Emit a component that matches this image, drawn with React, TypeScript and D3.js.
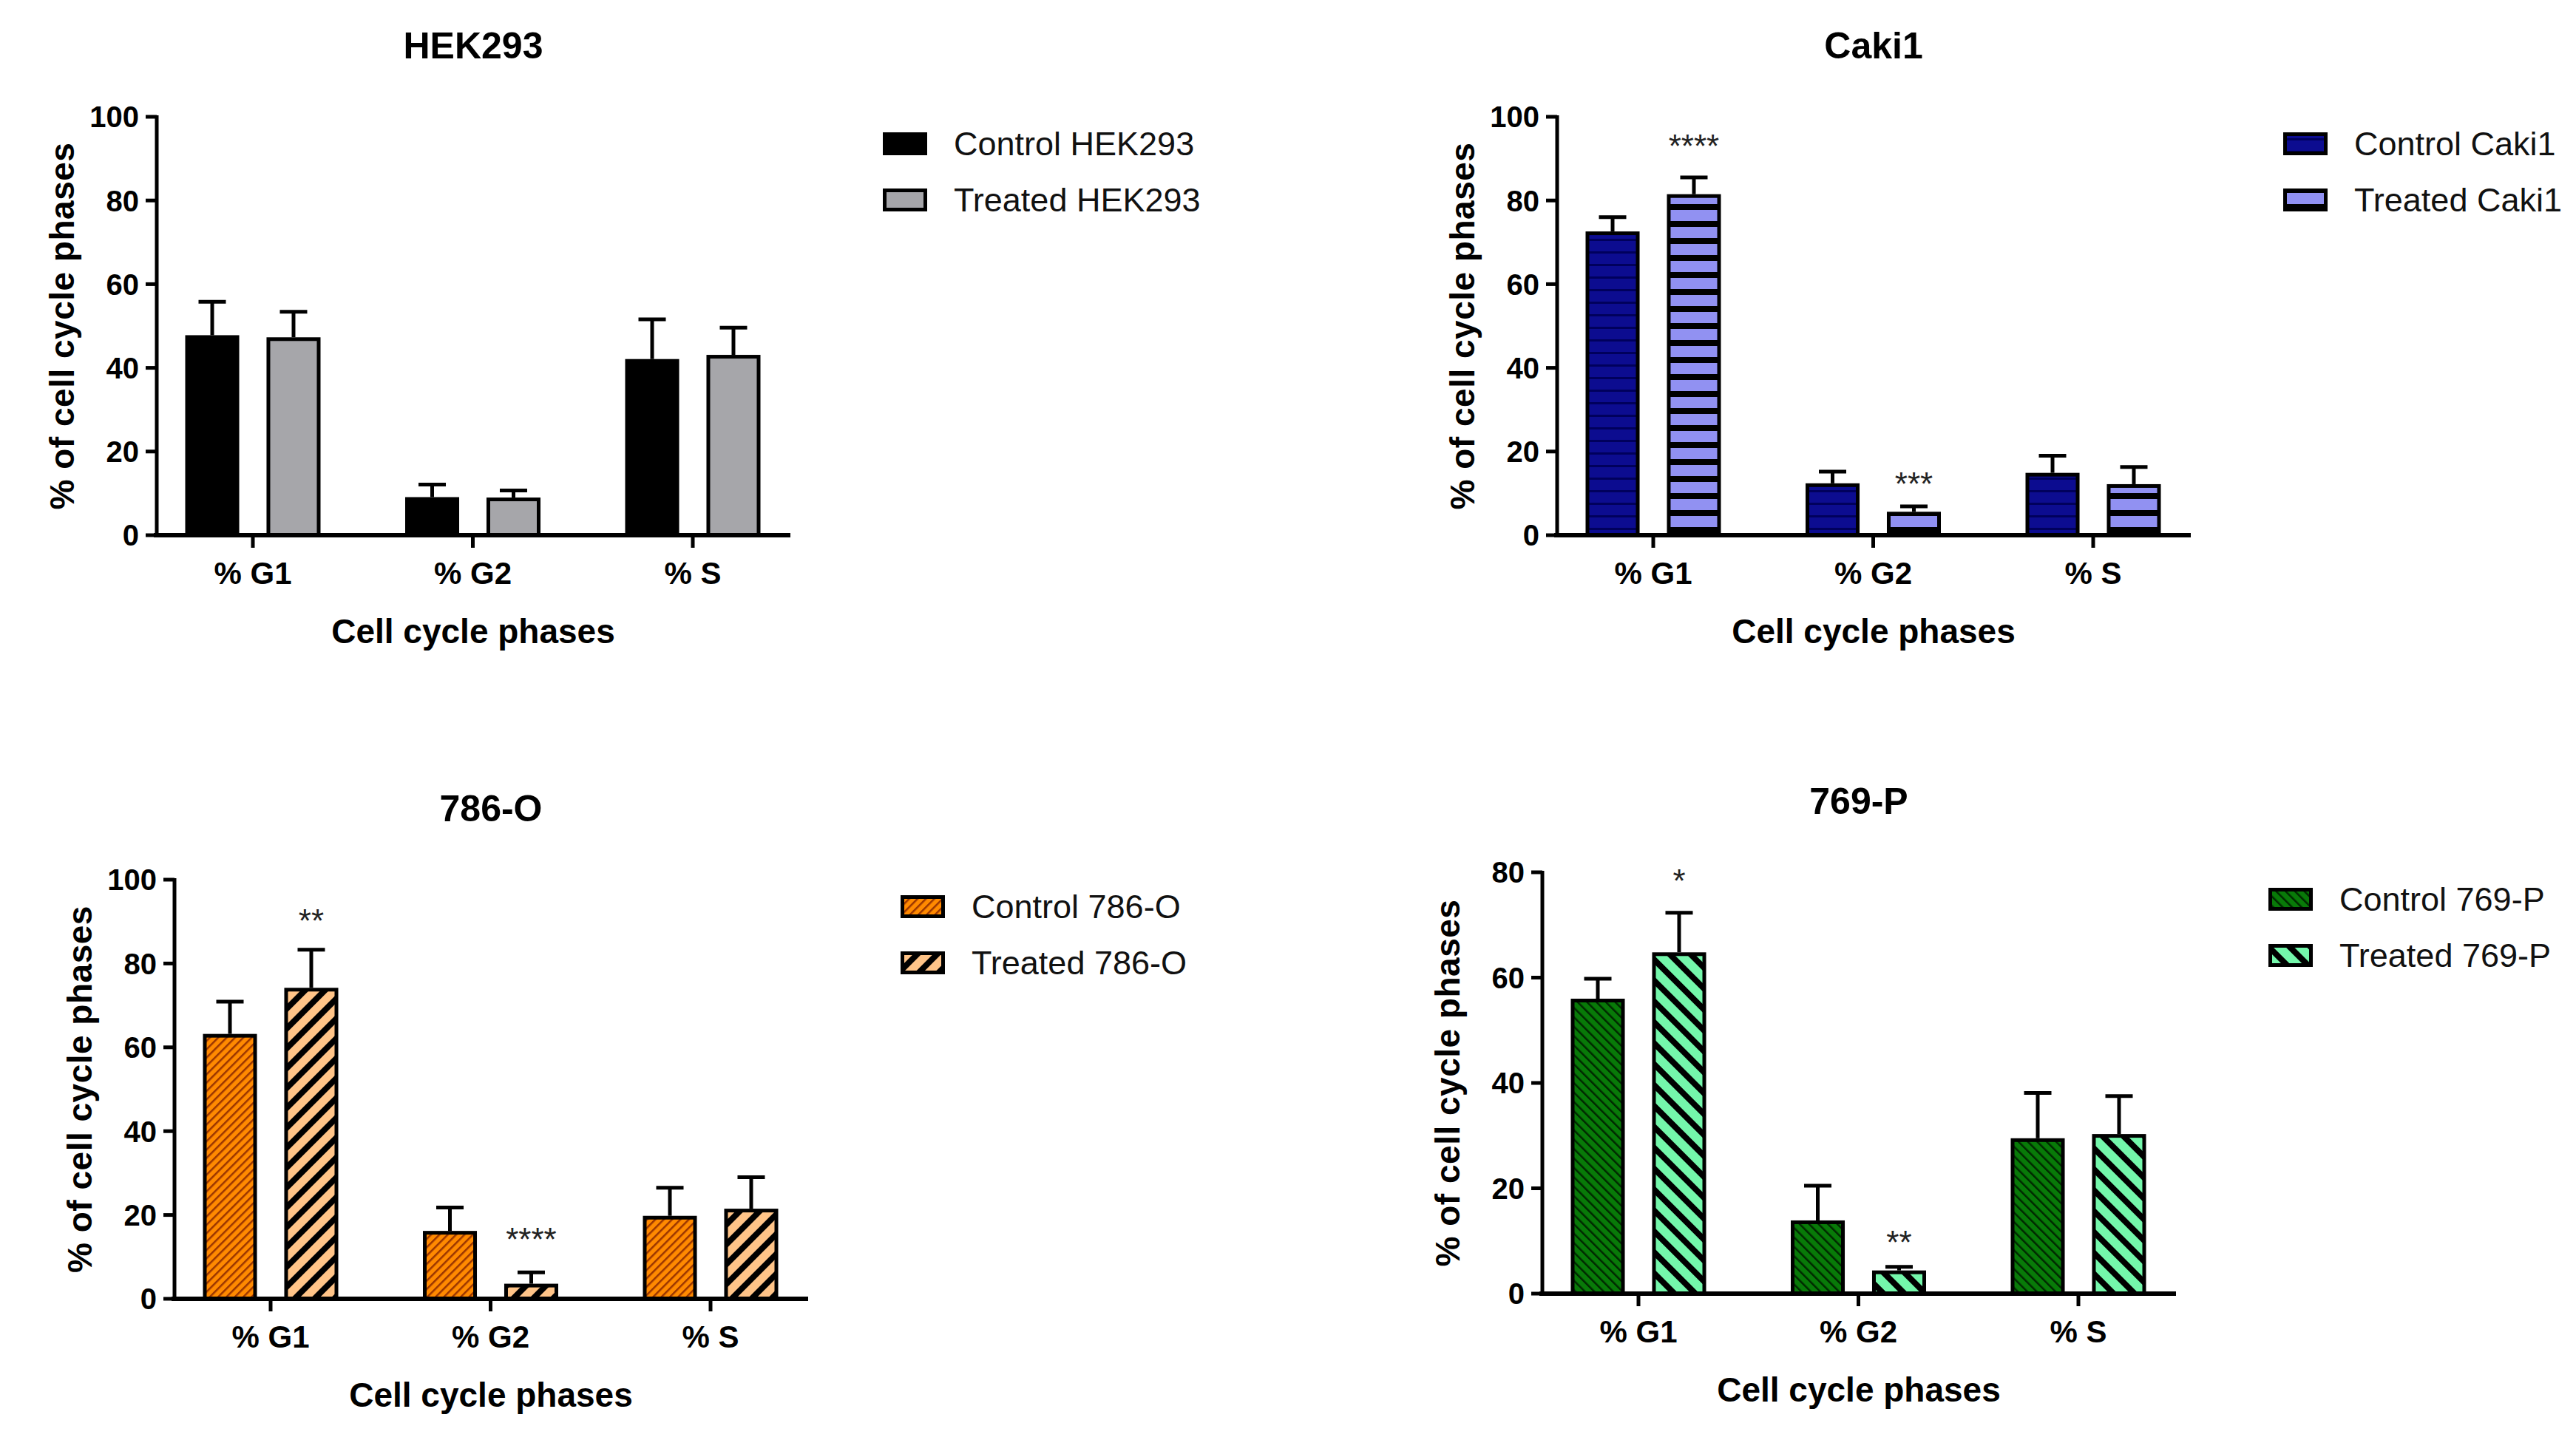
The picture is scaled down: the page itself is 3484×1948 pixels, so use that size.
import React from "react";
import * as d3 from "d3";

// ---------- data ----------
const categories = ["% G1", "% G2", "% S"];
const panelTitles = ["HEK293", "Caki1", "786-O", "769-P"];
const controlLabels = ["Control HEK293", "Control Caki1", "Control 786-O", "Control 769-P"];
const treatedLabels = ["Treated HEK293", "Treated Caki1", "Treated 786-O", "Treated 769-P"];

const hekControl = [47.8, 9.1, 42.1];
const hekControlErr = [8.0, 3.0, 9.5];
const hekTreated = [47.3, 9.0, 43.1];
const hekTreatedErr = [6.1, 1.7, 6.5];
const hekSig = ["", "", ""];
const hekSigY = [0, 0, 0];

const cakiControl = [72.6, 12.4, 14.9];
const cakiControlErr = [3.4, 2.8, 4.1];
const cakiTreated = [81.5, 5.6, 12.2];
const cakiTreatedErr = [4.0, 1.3, 4.1];
const cakiSig = ["****", "***", ""];
const cakiSigY = [94.8, 14.2, 0];

const o786Control = [63.2, 16.2, 19.8];
const o786ControlErr = [7.7, 5.6, 6.7];
const o786Treated = [74.2, 3.6, 21.5];
const o786TreatedErr = [9.1, 2.7, 7.5];
const o786Sig = ["**", "****", ""];
const o786SigY = [92.0, 16.0, 0];

const p769Control = [56.0, 13.9, 29.5];
const p769ControlErr = [3.8, 6.6, 8.6];
const p769Treated = [64.8, 4.4, 30.3];
const p769TreatedErr = [7.5, 0.7, 7.2];
const p769Sig = ["*", "**", ""];
const p769SigY = [79.8, 11.2, 0];

const yTicks100 = [0, 20, 40, 60, 80, 100];
const yTicks80 = [0, 20, 40, 60, 80];

const xTitle = "Cell cycle phases";
const yTitle = "% of cell cycle phases";

// ---------- layout & style ----------
const FONT = "'Liberation Sans', Arial, Helvetica, sans-serif";
const W = 3484;
const H = 1948;

const panels = [
  {
    title: panelTitles[0], ctrlLabel: controlLabels[0], trtLabel: treatedLabels[0],
    ctrl: hekControl, ctrlErr: hekControlErr, trt: hekTreated, trtErr: hekTreatedErr,
    sig: hekSig, sigY: hekSigY, max: 100, ticks: yTicks100,
    left: 212, top: 158, bottom: 724, ctrlFill: "#000000", trtFill: "#a6a6aa",
  },
  {
    title: panelTitles[1], ctrlLabel: controlLabels[1], trtLabel: treatedLabels[1],
    ctrl: cakiControl, ctrlErr: cakiControlErr, trt: cakiTreated, trtErr: cakiTreatedErr,
    sig: cakiSig, sigY: cakiSigY, max: 100, ticks: yTicks100,
    left: 2106, top: 158, bottom: 724, ctrlFill: "url(#cakiCtrl)", trtFill: "url(#cakiTrt)",
  },
  {
    title: panelTitles[2], ctrlLabel: controlLabels[2], trtLabel: treatedLabels[2],
    ctrl: o786Control, ctrlErr: o786ControlErr, trt: o786Treated, trtErr: o786TreatedErr,
    sig: o786Sig, sigY: o786SigY, max: 100, ticks: yTicks100,
    left: 236, top: 1190, bottom: 1757, ctrlFill: "url(#o786Ctrl)", trtFill: "url(#o786Trt)",
  },
  {
    title: panelTitles[3], ctrlLabel: controlLabels[3], trtLabel: treatedLabels[3],
    ctrl: p769Control, ctrlErr: p769ControlErr, trt: p769Treated, trtErr: p769TreatedErr,
    sig: p769Sig, sigY: p769SigY, max: 80, ticks: yTicks80,
    left: 2086, top: 1180, bottom: 1750, ctrlFill: "url(#p769Ctrl)", trtFill: "url(#p769Trt)",
  },
];

const SW = 5; // stroke width

function Panel({ p }: { p: any }) {
  const L = p.left;
  const y = d3.scaleLinear().domain([0, p.max]).range([p.bottom, p.top]);
  const x = d3.scalePoint<string>().domain(categories).range([L + 130, L + 725]);
  const inner = d3
    .scaleBand<string>()
    .domain(["ctrl", "trt"])
    .range([-91.5, 91.5])
    .paddingInner(0.336)
    .paddingOuter(0);
  const bw = inner.bandwidth();
  const capW = 37;
  const right = L + 857;
  const series = [
    { key: "ctrl", vals: p.ctrl, errs: p.ctrlErr, fill: p.ctrlFill },
    { key: "trt", vals: p.trt, errs: p.trtErr, fill: p.trtFill },
  ];
  const midY = (p.top + p.bottom) / 2;
  return (
    <g>
      <text x={L + 428} y={p.top - 79} textAnchor="middle" fontFamily={FONT} fontWeight="bold" fontSize={50}>
        {p.title}
      </text>
      {/* bars */}
      {series.map((s) =>
        categories.map((c, i) => {
          const bx = (x(c) as number) + (inner(s.key) as number);
          const cx = bx + bw / 2;
          const top = y(s.vals[i]);
          const et = y(s.vals[i] + s.errs[i]);
          return (
            <g key={s.key + c}>
              <line x1={cx} x2={cx} y1={top} y2={et} stroke="#000" strokeWidth={SW} />
              <line x1={cx - capW / 2} x2={cx + capW / 2} y1={et} y2={et} stroke="#000" strokeWidth={SW} />
              <rect
                x={bx + SW / 2}
                y={top + SW / 2}
                width={bw - SW}
                height={p.bottom - top - SW / 2}
                fill={s.fill}
                stroke="#000"
                strokeWidth={SW}
              />
            </g>
          );
        })
      )}
      {/* significance */}
      {categories.map((c, i) =>
        p.sig[i] ? (
          <text
            key={"sig" + c}
            x={(x(c) as number) + (inner("trt") as number) + bw / 2}
            y={y(p.sigY[i]) + 26}
            textAnchor="middle"
            fontFamily={FONT}
            fontSize={44}
            fill="#222"
          >
            {p.sig[i]}
          </text>
        ) : null
      )}
      {/* y axis */}
      <line x1={L} x2={L} y1={p.top - 2} y2={p.bottom + 2} stroke="#000" strokeWidth={SW} />
      {p.ticks.map((t: number) => (
        <g key={"yt" + t}>
          <line x1={L - 15} x2={L} y1={y(t)} y2={y(t)} stroke="#000" strokeWidth={SW} />
          <text
            x={L - 24}
            y={y(t)}
            dy="0.36em"
            textAnchor="end"
            fontFamily={FONT}
            fontWeight="bold"
            fontSize={40}
          >
            {t}
          </text>
        </g>
      ))}
      {/* x axis */}
      <line x1={L - 4} x2={right} y1={p.bottom} y2={p.bottom} stroke="#000" strokeWidth={6} />
      {categories.map((c) => (
        <g key={"xt" + c}>
          <line x1={x(c)} x2={x(c)} y1={p.bottom} y2={p.bottom + 17} stroke="#000" strokeWidth={SW} />
          <text x={x(c)} y={p.bottom + 66} textAnchor="middle" fontFamily={FONT} fontWeight="bold" fontSize={42}>
            {c}
          </text>
        </g>
      ))}
      <text x={L + 428} y={p.bottom + 146} textAnchor="middle" fontFamily={FONT} fontWeight="bold" fontSize={46}>
        {xTitle}
      </text>
      <text
        transform={`translate(${L - 112},${midY}) rotate(-90)`}
        textAnchor="middle"
        fontFamily={FONT}
        fontWeight="bold"
        fontSize={46}
        letterSpacing={0.5}
      >
        {yTitle}
      </text>
      {/* legend */}
      {[
        { fill: p.ctrlFill, label: p.ctrlLabel },
        { fill: p.trtFill, label: p.trtLabel },
      ].map((e, j) => {
        const ly = p.top + 21 + j * 76;
        return (
          <g key={"lg" + j}>
            <rect
              x={L + 982 + SW / 2}
              y={ly + SW / 2}
              width={60 - SW}
              height={31 - SW}
              fill={e.fill}
              stroke="#000"
              strokeWidth={SW}
            />
            <text x={L + 1078} y={ly + 15.5 + 15} fontFamily={FONT} fontSize={45} fill="#111">
              {e.label}
            </text>
          </g>
        );
      })}
    </g>
  );
}

function Stripes({
  id, bg, fg, period, thick, angle,
}: { id: string; bg: string; fg: string; period: number; thick: number; angle: number }) {
  return (
    <pattern
      id={id}
      patternUnits="userSpaceOnUse"
      width={period}
      height={period}
      patternTransform={`rotate(${angle})`}
    >
      <rect x={0} y={0} width={period} height={period} fill={bg} />
      <rect x={0} y={0} width={thick} height={period} fill={fg} />
    </pattern>
  );
}

export default function App() {
  return (
    <svg
      width={W}
      height={H}
      viewBox={`0 0 ${W} ${H}`}
      style={{ position: "absolute", left: 0, top: 0, background: "#fff" }}
    >
      <defs>
        <pattern id="cakiCtrl" patternUnits="userSpaceOnUse" width={20} height={17}>
          <rect x={0} y={0} width={20} height={17} fill="#0c0c90" />
          <rect x={0} y={0} width={20} height={3} fill="#00005c" />
        </pattern>
        <pattern id="cakiTrt" patternUnits="userSpaceOnUse" width={20} height={23}>
          <rect x={0} y={0} width={20} height={23} fill="#9191f2" />
          <rect x={0} y={0} width={20} height={8} fill="#000000" />
        </pattern>
        <Stripes id="o786Ctrl" bg="#ff8a00" fg="#9a3500" period={8} thick={2.5} angle={45} />
        <Stripes id="o786Trt" bg="#ffc488" fg="#000000" period={19} thick={8} angle={45} />
        <Stripes id="p769Ctrl" bg="#087a08" fg="#002800" period={9} thick={2.5} angle={-45} />
        <Stripes id="p769Trt" bg="#74f7ab" fg="#000000" period={20} thick={8} angle={-45} />
      </defs>
      <rect x={0} y={0} width={W} height={H} fill="#fff" />
      {panels.map((p, i) => (
        <Panel key={i} p={p} />
      ))}
    </svg>
  );
}
